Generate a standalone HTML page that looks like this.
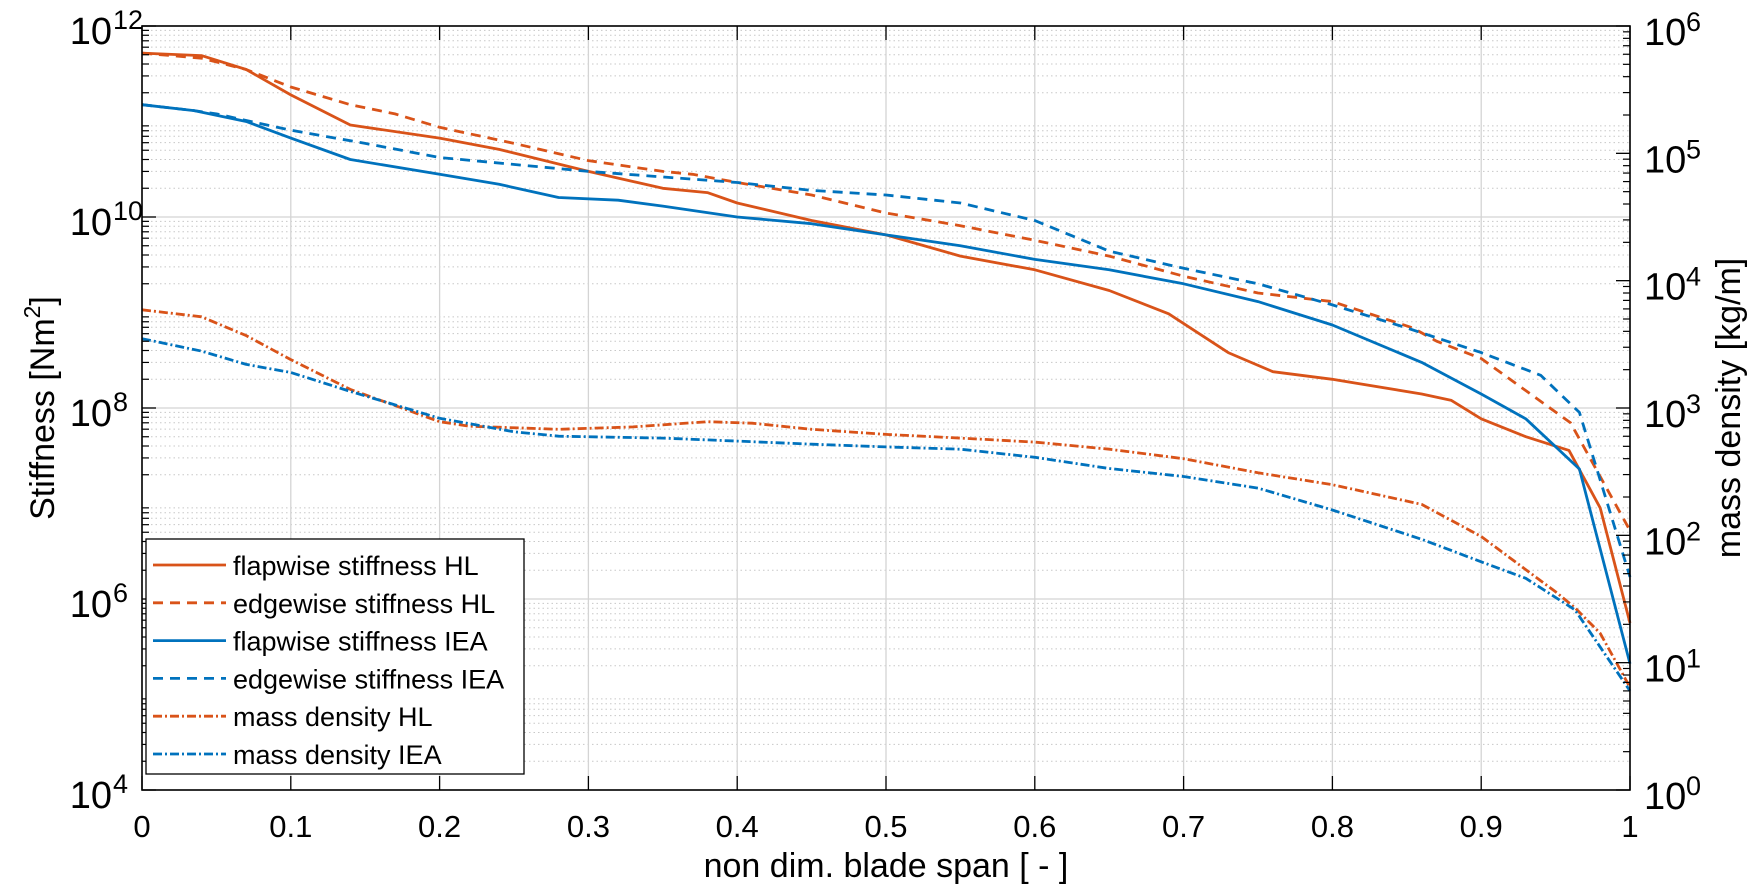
<!DOCTYPE html>
<html><head><meta charset="utf-8">
<style>
html,body{margin:0;padding:0;background:#fff;}
svg{display:block;font-family:"Liberation Sans",Arial,sans-serif;}
</style></head>
<body>
<svg id="chart" width="1751" height="892" viewBox="0 0 1751 892" xmlns="http://www.w3.org/2000/svg">
<rect x="0" y="0" width="1751" height="892" fill="#fff"/>
<g id="grid"></g>
<g id="series"></g>
<g id="axes"></g>
<g id="legend"></g>
</svg>
<script>
const xFlapHL = [0,0.04,0.07,0.1,0.14,0.2,0.24,0.3,0.35,0.38,0.4,0.45,0.5,0.55,0.6,0.65,0.69,0.73,0.76,0.8,0.86,0.88,0.9,0.93,0.959,0.98,1.0];
const flapHL = [5.2e11,4.9e11,3.5e11,1.9e11,9.2e10,6.7e10,5.1e10,3.0e10,2.0e10,1.8e10,1.4e10,9.2e9,6.5e9,3.9e9,2.8e9,1.7e9,9.7e8,3.8e8,2.4e8,2.0e8,1.4e8,1.2e8,7.7e7,5.0e7,3.6e7,9e6,5.6e5];
const xEdgeHL = [0,0.04,0.07,0.1,0.14,0.17,0.2,0.25,0.3,0.35,0.37,0.4,0.45,0.5,0.55,0.6,0.65,0.7,0.75,0.8,0.854,0.87,0.9,0.96,1.0];
const edgeHL = [5.2e11,4.6e11,3.5e11,2.3e11,1.5e11,1.2e11,8.7e10,5.9e10,3.9e10,3.0e10,2.8e10,2.3e10,1.7e10,1.1e10,8.1e9,5.7e9,3.9e9,2.4e9,1.6e9,1.3e9,6.9e8,5.0e8,3.3e8,7e7,5.2e6];
const xFlapIEA = [0,0.035,0.07,0.1,0.14,0.2,0.24,0.28,0.32,0.35,0.4,0.45,0.5,0.55,0.6,0.65,0.7,0.75,0.8,0.86,0.9,0.93,0.966,1.0];
const flapIEA = [1.5e11,1.3e11,1.0e11,6.7e10,4.0e10,2.8e10,2.2e10,1.6e10,1.5e10,1.3e10,1.0e10,8.5e9,6.5e9,5.0e9,3.6e9,2.8e9,2.0e9,1.3e9,7.4e8,3.0e8,1.4e8,7.7e7,2.3e7,2.1e5];
const xEdgeIEA = [0,0.035,0.05,0.1,0.15,0.2,0.3,0.4,0.45,0.5,0.55,0.6,0.65,0.7,0.75,0.8,0.85,0.9,0.94,0.966,1.0];
const edgeIEA = [1.5e11,1.3e11,1.2e11,8.1e10,5.9e10,4.2e10,3.0e10,2.3e10,1.9e10,1.7e10,1.4e10,9.2e9,4.4e9,2.9e9,2.0e9,1.2e9,6.9e8,3.8e8,2.2e8,9e7,1.7e6];
const xMassHL = [0,0.04,0.07,0.1,0.14,0.2,0.22,0.28,0.33,0.38,0.41,0.45,0.5,0.55,0.6,0.65,0.7,0.75,0.8,0.86,0.9,0.95,0.963,0.98,1.0];
const massHL = [5900,5200,3700,2400,1400,780,720,680,710,780,760,680,620,580,540,475,400,310,250,175,98,36,27,17,6.4];
const xMassIEA = [0,0.04,0.07,0.1,0.14,0.2,0.25,0.28,0.35,0.4,0.45,0.5,0.55,0.6,0.65,0.7,0.75,0.8,0.86,0.9,0.93,0.963,1.0];
const massIEA = [3500,2800,2200,1900,1350,830,650,600,580,550,520,495,475,410,335,290,235,158,93,62,46,26,6.0];
const xTicks = ["0","0.1","0.2","0.3","0.4","0.5","0.6","0.7","0.8","0.9","1"];
const leftExp = [4,6,8,10,12];
const rightExp = [0,1,2,3,4,5,6];

const NS="http://www.w3.org/2000/svg";
const L=142,R=1630,T=26,B=790;
const X=v=>L+(R-L)*v;
const YL=v=>B-(Math.log10(v)-4)/8*(B-T);
const YR=v=>B-(Math.log10(v))/6*(B-T);
function mk(tag,attrs,parent){const e=document.createElementNS(NS,tag);for(const k in attrs)e.setAttribute(k,attrs[k]);parent.appendChild(e);return e;}
const grid=document.getElementById('grid'),axes=document.getElementById('axes'),series=document.getElementById('series'),legend=document.getElementById('legend');

for(let d=4;d<12;d++){for(let m=2;m<=9;m++){const y=YL(m*Math.pow(10,d));
 const g=mk('line',{x1:L,x2:R,y1:y,y2:y,stroke:'#c8c8c8','stroke-width':1,'stroke-dasharray':'1.5,3'},grid);
 
 
 mk('line',{x1:L,x2:L+7,y1:y,y2:y,stroke:'#000','stroke-width':1.2},axes);
}}
for(let d=0;d<6;d++){for(let m=2;m<=9;m++){const y=YR(m*Math.pow(10,d));
 mk('line',{x1:R-7,x2:R,y1:y,y2:y,stroke:'#000','stroke-width':1.2},axes);
}}
leftExp.forEach(e=>{const y=YL(Math.pow(10,e));
 const g=mk('line',{x1:L,x2:R,y1:y,y2:y,stroke:'#d4d4d4','stroke-width':1.3},grid);
 
 
 mk('line',{x1:L,x2:L+14,y1:y,y2:y,stroke:'#000','stroke-width':1.3},axes);
 const t=mk('text',{x:L-30,y:y+18,'font-size':38,'text-anchor':'end'},axes);t.textContent='10';
 
 
 mk('text',{x:L-29,y:y+3,'font-size':27,'text-anchor':'start'},axes).textContent=String(e);
});
rightExp.forEach(e=>{const y=YR(Math.pow(10,e));
 mk('line',{x1:R-14,x2:R,y1:y,y2:y,stroke:'#000','stroke-width':1.3},axes);
 const t=mk('text',{x:R+14,y:y+19,'font-size':38},axes);t.textContent='10';
 
 
 mk('text',{x:R+56,y:y+5,'font-size':27},axes).textContent=String(e);
});
xTicks.forEach((lab,i)=>{const x=X(i/10);
 const g=mk('line',{x1:x,x2:x,y1:T,y2:B,stroke:'#d4d4d4','stroke-width':1.3},grid);
 
 
 mk('line',{x1:x,x2:x,y1:B-14,y2:B,stroke:'#000','stroke-width':1.3},axes);
 mk('line',{x1:x,x2:x,y1:T,y2:T+14,stroke:'#000','stroke-width':1.3},axes);
 const t=mk('text',{x:x,y:B+47,'font-size':31,'text-anchor':'middle'},axes);t.textContent=lab;
 
 
});
const box=mk('rect',{x:L,y:T,width:R-L,height:B-T,fill:'none',stroke:'#000','stroke-width':1.6},axes);


const xt=mk('text',{x:(L+R)/2,y:877,'font-size':34,'text-anchor':'middle'},axes);
xt.textContent='non dim. blade span [ - ]';


const yt=mk('text',{transform:'translate(54,'+((T+B)/2)+') rotate(-90)','font-size':34,'text-anchor':'middle'},axes);
yt.innerHTML='Stiffness [Nm<tspan dy="-14" font-size="23">2</tspan><tspan dy="14">]</tspan>';


const yr=mk('text',{transform:'translate(1740,'+((T+B)/2)+') rotate(-90)','font-size':34,'text-anchor':'middle'},axes);
yr.textContent='mass density [kg/m]';



const OR='#D95319',BL='#0072BD';
const defs=[
 {xs:xFlapHL,ys:flapHL,sc:YL,c:OR,d:'',n:'flapwise stiffness HL',id:'line-flapwise-hl'},
 {xs:xEdgeHL,ys:edgeHL,sc:YL,c:OR,d:'10,7',n:'edgewise stiffness HL',id:'line-edgewise-hl'},
 {xs:xFlapIEA,ys:flapIEA,sc:YL,c:BL,d:'',n:'flapwise stiffness IEA',id:'line-flapwise-iea'},
 {xs:xEdgeIEA,ys:edgeIEA,sc:YL,c:BL,d:'10,7',n:'edgewise stiffness IEA',id:'line-edgewise-iea'},
 {xs:xMassHL,ys:massHL,sc:YR,c:OR,d:'9,3,2,3',n:'mass density HL',id:'line-mass-hl'},
 {xs:xMassIEA,ys:massIEA,sc:YR,c:BL,d:'9,3,2,3',n:'mass density IEA',id:'line-mass-iea'}
];
defs.forEach((s,i)=>{
 const pts=s.xs.map((x,j)=>X(x).toFixed(1)+','+s.sc(s.ys[j]).toFixed(1)).join(' ');
 const p=mk('polyline',{points:pts,fill:'none',stroke:s.c,'stroke-width':2.8,'stroke-linejoin':'round'},series);
 if(s.d)p.setAttribute('stroke-dasharray',s.d);
 
 
});
const lb=mk('rect',{x:146,y:539,width:378,height:235,fill:'#fff',stroke:'#000','stroke-width':1.3},legend);


defs.forEach((s,i)=>{
 const y=565+i*37.8;
 const ln=mk('line',{x1:153,x2:226,y1:y,y2:y,stroke:s.c,'stroke-width':2.8},legend);
 if(s.d)ln.setAttribute('stroke-dasharray',s.d);
 const t=mk('text',{x:233,y:y+10,'font-size':27},legend);t.textContent=s.n;
 
 
});
</script>
</body></html>
